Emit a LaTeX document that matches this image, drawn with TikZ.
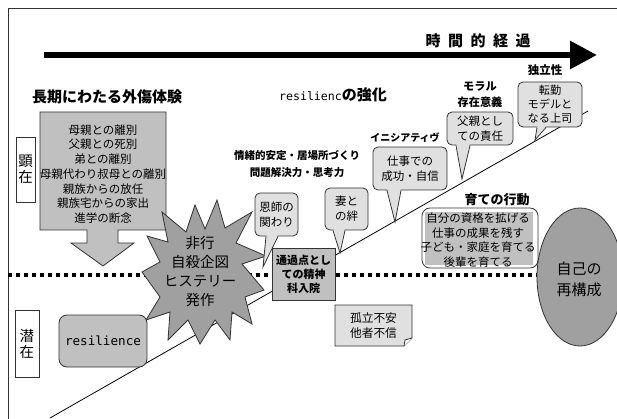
\documentclass[tikz,border=0pt]{standalone}
\usepackage{fontspec}
\setmainfont{Noto Sans CJK JP}
\newfontfamily\monof{DejaVu Sans Mono}
\usetikzlibrary{arrows.meta,calc,shapes.geometric}
\definecolor{edgec}{HTML}{333333}
\definecolor{boxg}{HTML}{C0C0C0}
\definecolor{darkg}{HTML}{A0A0A0}
\definecolor{lightg}{HTML}{E0E0E0}
\newcommand{\cptr}[4]{%
  \fill[lightg] ($(#1.south -| #2,0)+(0.4,-1.2)$) -- (#4) -- ($(#1.south -| #3,0)+(-0.4,-1.2)$) -- cycle;
  \draw[edgec,line width=0.8pt] (#1.south -| #2,0) -- (#4) -- (#1.south -| #3,0);}
\tikzset{
  txt/.style={inner sep=0pt, align=center},
  hdr/.style={inner sep=0pt, align=center, font=\bfseries\fontsize{#1}{#1}\selectfont},
  callbox/.style={draw=edgec, fill=lightg, rounded corners=5pt, inner sep=0pt,
    line width=0.8pt, align=center, font=\fontsize{11.5}{15}\selectfont},
  shapeline/.style={draw=edgec, line width=0.8pt},
}
\begin{document}
\begin{tikzpicture}[x=1pt,y=-1pt]
\clip (0,0) rectangle (617,419);
\fill[white] (0,0) rectangle (617,419);
% frame
\draw[edgec, line width=1pt] (617,9) -- (8,9) -- (8,419);
% timeline
\coordinate (tlA) at (44,55);
\coordinate (tlB) at (597,55);
\draw[line width=6pt, -{Triangle[length=27pt,width=27pt]}] (tlA) -- (tlB);
\node[hdr=15] (time) at (478,41) {時\hspace{7.5pt}間\hspace{7.5pt}的\hspace{7.5pt}経\hspace{7.5pt}過};
% dotted boundary
\coordinate (dotA) at (8,275);
\coordinate (dotB) at (545,275);
\draw[line width=3.5pt, dash pattern=on 4pt off 4pt] (dotA) -- (dotB);
% diagonal growth line
\coordinate (dgA) at (50,418);
\coordinate (dgB) at (588,111);
\draw[line width=0.8pt] (dgA) -- (dgB);
% headings
\node[hdr=15] (trauma-h) at (107,97) {長期にわたる外傷体験};
\node[txt] (resil-h) at (333,95) {{\monof\fontsize{11.6}{14}\selectfont resilienc}{\bfseries\fontsize{15}{15}\selectfont の強化}};
% big arrow box
\filldraw[fill=boxg, shapeline] (40,112) -- (166,112) -- (166,230) -- (118,230) -- (118,243) -- (134,243) -- (103,266) -- (71,243) -- (87,243) -- (87,230) -- (40,230) -- cycle;
\node[txt, font=\fontsize{11.5}{14.7}\selectfont] (trauma) at (103,174) {母親との離別\\父親との死別\\弟との離別\\母親代わり叔母との離別\\親族からの放任\\親族宅からの家出\\進学の断念};
% side labels
\node[draw=edgec, line width=0.8pt, fill=white, minimum width=19pt, minimum height=65pt, inner sep=0pt, align=center, font=\fontsize{14.5}{16}\selectfont] (kenzai) at (25.5,169.5) {顕\\在};
\node[draw=edgec, line width=0.8pt, fill=white, minimum width=24pt, minimum height=67pt, inner sep=0pt, align=center, font=\fontsize{14.5}{16}\selectfont] (senzai) at (27,343.5) {潜\\在};
% star
\filldraw[fill=darkg, shapeline] (217,200) -- (225,228) -- (252,212) -- (236,243) -- (266,256) -- (242,264) -- (264,290) -- (245,297) -- (252,324) -- (232,312) -- (230,340) -- (215,320) -- (200,344) -- (188,320) -- (168,340) -- (170,312) -- (146,320) -- (160,297) -- (142,272) -- (160,262) -- (147,236) -- (168,242) -- (162,212) -- (186,232) -- (195,205) -- (205,229) -- cycle;
\node[txt, font=\fontsize{14.5}{19}\selectfont] (crisis) at (200,272) {非行\\自殺企図\\ヒステリー\\発作};
% resilience box
\node[draw=edgec, line width=0.8pt, fill=boxg, rounded corners=8pt, minimum width=88pt, minimum height=52pt, inner sep=0pt, font=\monof\fontsize{12.6}{14}\selectfont] (resil) at (103,341) {resilience};
% passing point box
\node[draw=edgec, line width=0.8pt, fill=boxg, minimum width=63pt, minimum height=52pt, inner sep=0pt, align=center, font=\bfseries\fontsize{11}{14}\selectfont] (hosp) at (303.5,274) {通過点とし\\ての精神\\科入院};
% labels
\node[hdr=10.5, font=\bfseries\fontsize{10.5}{16.5}\selectfont] (emo) at (297,164) {情緒的安定・居場所づくり\\問題解決力・思考力};
\node[hdr=10] (init) at (405,138) {イニシアティヴ};
\node[hdr=11.2, font=\bfseries\fontsize{11.2}{16}\selectfont] (moral) at (480,95) {モラル\\存在意義};
\node[hdr=11.5] (indep) at (545,70) {独立性};
\node[hdr=13] (raise-h) at (497,200) {育ての行動};
% callouts
\coordinate (tOnshi) at (263,267);
\coordinate (tTsuma) at (340,253);
\coordinate (tShigoto) at (395,222);
\coordinate (tChichi) at (462,179);
\coordinate (tTenkin) at (535,140);
\node[callbox, minimum width=43pt, minimum height=43pt] (onshi) at (276.5,214.5) {恩師の\\関わり};
\cptr{onshi}{266}{278}{tOnshi}
\node[callbox, minimum width=43pt, minimum height=42pt] (tsuma) at (346.5,209) {妻と\\の絆};
\cptr{tsuma}{333}{345}{tTsuma}
\node[callbox, minimum width=74pt, minimum height=43pt] (shigoto) at (410,168.5) {仕事での\\成功・自信};
\cptr{shigoto}{387}{401}{tShigoto}
\node[callbox, minimum width=66pt, minimum height=33pt] (chichi) at (480,128.5) {父親とし\\ての責任};
\cptr{chichi}{456}{470}{tChichi}
\node[callbox, minimum width=64pt, minimum height=45pt, font=\fontsize{11.2}{14}\selectfont] (tenkin) at (550,104.5) {転勤\\モデルと\\なる上司};
\cptr{tenkin}{537}{546}{tTenkin}
% raising box
\draw[edgec, line width=0.8pt, fill=white, rounded corners=8pt] (422,208) rectangle (538,268);
\fill[boxg] (425,212) rectangle (533,265);
\node[txt, font=\fontsize{11.5}{14.5}\selectfont] (raise) at (478,240) {自分の資格を拡げる\\仕事の成果を残す\\子ども・家庭を育てる\\後輩を育てる};
% self ellipse
\node[ellipse, draw=edgec, line width=0.8pt, fill=darkg, minimum width=86pt, minimum height=138pt, inner sep=0pt, align=center, font=\fontsize{15}{21}\selectfont] (self) at (580,277) {};
\node[txt, font=\fontsize{15}{21}\selectfont] (self-t) at (579,279) {自己の\\再構成};
% note
\filldraw[fill=lightg, shapeline] (335,305) -- (412,305) -- (412,338) -- (404,346) -- (335,346) -- cycle;
\draw[shapeline, fill=white] (412,338) -- (405,340) -- (404,346);
\node[txt, font=\fontsize{11.7}{15}\selectfont] (note) at (373.5,325.5) {孤立不安\\他者不信};
\end{tikzpicture}
\end{document}
